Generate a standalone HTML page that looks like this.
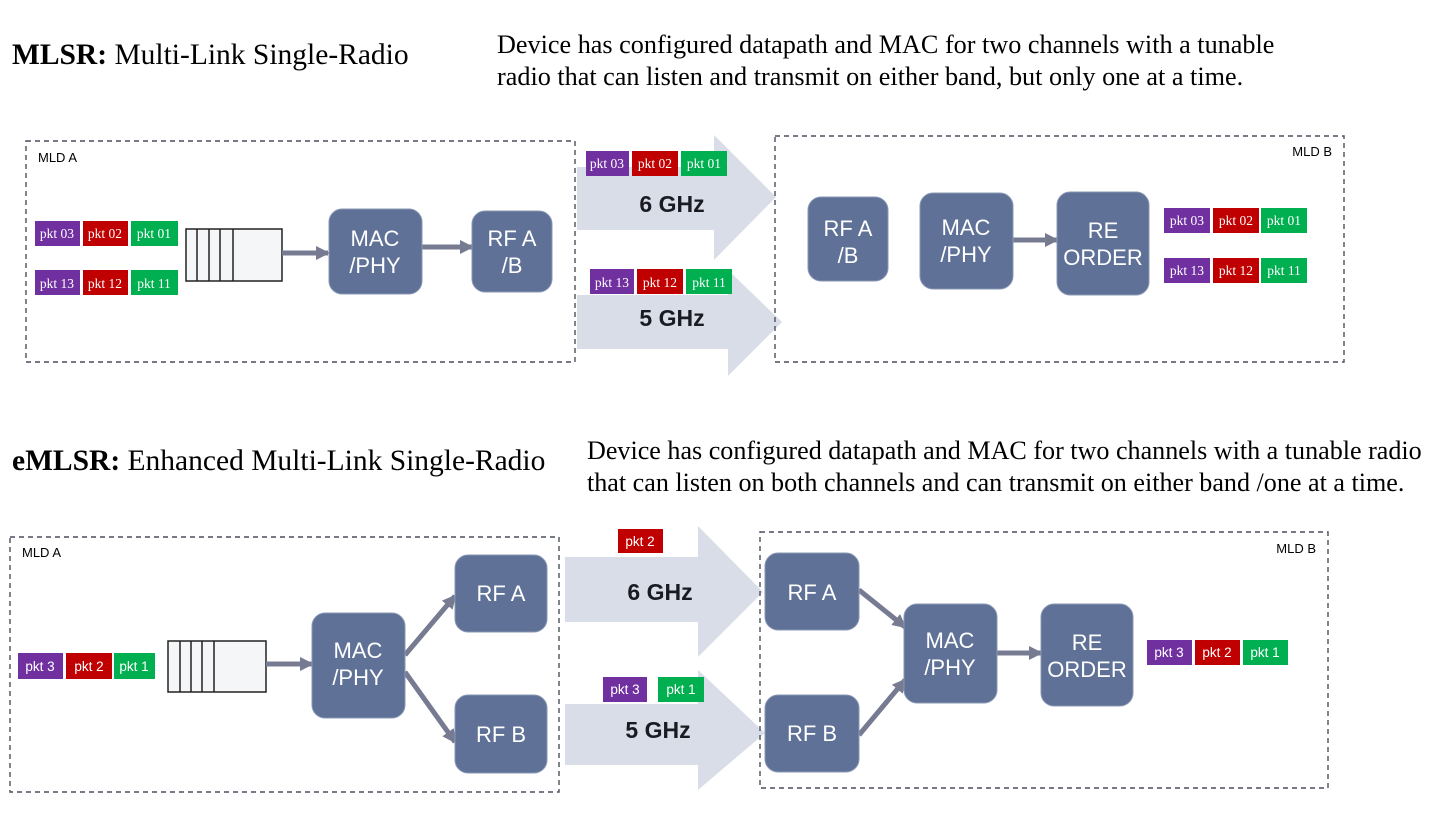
<!DOCTYPE html>
<html><head><meta charset="utf-8"><style>
html,body{margin:0;padding:0;background:#fff;}
svg{display:block;}
.ser{font-family:"Liberation Serif",serif;}
.san{font-family:"Liberation Sans",sans-serif;}
</style></head><body>
<svg width="1441" height="833" viewBox="0 0 1441 833" xmlns="http://www.w3.org/2000/svg">
<defs>
<marker id="ah" markerWidth="14" markerHeight="14" refX="12" refY="7" orient="auto" markerUnits="userSpaceOnUse">
<path d="M0,0 L14,7 L0,14 z" fill="#777b92"/></marker>
</defs>
<text x="12" y="64" class="ser" font-size="29.5"><tspan font-weight="bold">MLSR:</tspan> Multi-Link Single-Radio</text>
<text x="497" y="53" class="ser" font-size="26.2">Device has configured datapath and MAC for two channels with a tunable</text>
<text x="497" y="85" class="ser" font-size="26.2">radio that can listen and transmit on either band, but only one at a time.</text>
<text x="12" y="470" class="ser" font-size="29.5"><tspan font-weight="bold">eMLSR:</tspan> Enhanced Multi-Link Single-Radio</text>
<text x="587" y="459" class="ser" font-size="26.1">Device has configured datapath and MAC for two channels with a tunable radio</text>
<text x="587" y="491" class="ser" font-size="26.1">that can listen on both channels and can transmit on either band /one at a time.</text>

<polygon points="577,167 714,167 714,135 776,197 714,260 714,230 577,230" fill="#d9dde7"/>
<polygon points="577,295 728,295 728,270 782,322 728,376 728,349 577,349" fill="#d9dde7"/>
<polygon points="565,557 698,557 698,526 763,592 698,657 698,622 565,622" fill="#d9dde7"/>
<polygon points="565,704 698,704 698,670 765,733 698,790 698,765 565,765" fill="#d9dde7"/>

<g fill="none" stroke="#4a4f5c" stroke-width="1.4" stroke-dasharray="5,4">
<rect x="26" y="141" width="549" height="221"/>
<rect x="775" y="136" width="569" height="226"/>
<rect x="10" y="537" width="549" height="255"/>
<rect x="760" y="532" width="568" height="256"/>
</g>
<g class="san" font-size="13">
<text x="38" y="162">MLD A</text>
<text x="1332" y="156" text-anchor="end">MLD B</text>
<text x="22" y="557">MLD A</text>
<text x="1316" y="553" text-anchor="end">MLD B</text>
</g>

<g class="ser" font-size="13.5" fill="#fff" text-anchor="middle">
<rect x="35" y="221" width="45" height="25" fill="#7030a0"/><text x="57" y="238">pkt 03</text>
<rect x="83" y="221" width="45" height="25" fill="#c00000"/><text x="105" y="238">pkt 02</text>
<rect x="131" y="221" width="47" height="25" fill="#00b050"/><text x="154" y="238">pkt 01</text>
<rect x="35" y="270" width="45" height="25" fill="#7030a0"/><text x="57" y="288">pkt 13</text>
<rect x="83" y="270" width="45" height="25" fill="#c00000"/><text x="105" y="288">pkt 12</text>
<rect x="131" y="270" width="47" height="25" fill="#00b050"/><text x="154" y="288">pkt 11</text>

<rect x="586" y="151" width="43" height="25" fill="#7030a0"/><text x="607" y="168">pkt 03</text>
<rect x="632" y="151" width="46" height="25" fill="#c00000"/><text x="655" y="168">pkt 02</text>
<rect x="681" y="151" width="46" height="25" fill="#00b050"/><text x="704" y="168">pkt 01</text>
<rect x="590" y="269" width="44" height="25" fill="#7030a0"/><text x="612" y="287">pkt 13</text>
<rect x="637" y="269" width="46" height="25" fill="#c00000"/><text x="660" y="287">pkt 12</text>
<rect x="686" y="269" width="46" height="25" fill="#00b050"/><text x="709" y="287">pkt 11</text>

<rect x="1164" y="208" width="46" height="25" fill="#7030a0"/><text x="1187" y="225">pkt 03</text>
<rect x="1213" y="208" width="46" height="25" fill="#c00000"/><text x="1236" y="225">pkt 02</text>
<rect x="1261" y="208" width="46" height="25" fill="#00b050"/><text x="1284" y="225">pkt 01</text>
<rect x="1164" y="258" width="46" height="25" fill="#7030a0"/><text x="1187" y="275">pkt 13</text>
<rect x="1213" y="258" width="46" height="25" fill="#c00000"/><text x="1236" y="275">pkt 12</text>
<rect x="1261" y="258" width="46" height="25" fill="#00b050"/><text x="1284" y="275">pkt 11</text>
</g>
<g class="san" font-weight="bold" font-size="23" fill="#1a1a22" text-anchor="middle">
<text x="672" y="212">6 GHz</text><text x="672" y="326">5 GHz</text>
<text x="660" y="600">6 GHz</text><text x="658" y="738">5 GHz</text>
</g>
<g fill="#f5f6f8" stroke="#222" stroke-width="1.5">
<rect x="186" y="229" width="96" height="52"/>
<line x1="197" y1="229" x2="197" y2="281"/><line x1="209" y1="229" x2="209" y2="281"/><line x1="220" y1="229" x2="220" y2="281"/><line x1="233" y1="229" x2="233" y2="281"/>
<rect x="168" y="641" width="98" height="51"/>
<line x1="180" y1="641" x2="180" y2="692"/><line x1="191" y1="641" x2="191" y2="692"/><line x1="202" y1="641" x2="202" y2="692"/><line x1="214" y1="641" x2="214" y2="692"/>
</g>
<g stroke="#777b92" stroke-width="5" fill="none" marker-end="url(#ah)">
<line x1="282" y1="253" x2="328" y2="253"/>
<line x1="422" y1="247" x2="472" y2="247"/>
<line x1="1013" y1="240" x2="1057" y2="240"/>
<line x1="266" y1="664" x2="312" y2="664"/>
<line x1="405" y1="655" x2="455" y2="596"/>
<line x1="405" y1="672" x2="455" y2="742"/>
<line x1="859" y1="590" x2="905" y2="627"/>
<line x1="859" y1="735" x2="905" y2="680"/>
<line x1="997" y1="653" x2="1041" y2="653"/>
</g>
<g fill="#5f7196" stroke="#8a98b4" stroke-width="1">
<rect x="329" y="209" width="93" height="85" rx="13"/>
<rect x="472" y="211" width="80" height="81" rx="13"/>
<rect x="808" y="197" width="80" height="84" rx="13"/>
<rect x="920" y="193" width="93" height="96" rx="13"/>
<rect x="1057" y="192" width="92" height="103" rx="13"/>
<rect x="312" y="613" width="93" height="105" rx="13"/>
<rect x="455" y="555" width="92" height="77" rx="13"/>
<rect x="455" y="695" width="92" height="78" rx="13"/>
<rect x="765" y="553" width="94" height="77" rx="13"/>
<rect x="765" y="695" width="94" height="77" rx="13"/>
<rect x="904" y="604" width="93" height="99" rx="13"/>
<rect x="1041" y="604" width="92" height="102" rx="13"/>
</g>
<g class="san" font-size="22" fill="#fff" text-anchor="middle">
<text x="375" y="246">MAC</text><text x="375" y="273">/PHY</text>
<text x="512" y="246">RF A</text><text x="512" y="273">/B</text>
<text x="848" y="236">RF A</text><text x="848" y="263">/B</text>
<text x="966" y="235">MAC</text><text x="966" y="262">/PHY</text>
<text x="1103" y="238">RE</text><text x="1103" y="265">ORDER</text>
<text x="358" y="658">MAC</text><text x="358" y="685">/PHY</text>
<text x="501" y="601">RF A</text><text x="501" y="742">RF B</text>
<text x="812" y="600">RF A</text><text x="812" y="741">RF B</text>
<text x="950" y="648">MAC</text><text x="950" y="675">/PHY</text>
<text x="1087" y="650">RE</text><text x="1087" y="677">ORDER</text>
</g>
<g class="san" font-size="13.5" fill="#fff" text-anchor="middle">
<rect x="18" y="653" width="45" height="26" fill="#7030a0"/><text x="40" y="671">pkt 3</text>
<rect x="66" y="653" width="46" height="26" fill="#c00000"/><text x="89" y="671">pkt 2</text>
<rect x="114" y="653" width="41" height="26" fill="#00b050"/><text x="134" y="671">pkt 1</text>
<rect x="618" y="529" width="45" height="24" fill="#c00000"/><text x="640" y="546">pkt 2</text>
<rect x="603" y="677" width="44" height="25" fill="#7030a0"/><text x="625" y="694">pkt 3</text>
<rect x="658" y="677" width="46" height="25" fill="#00b050"/><text x="681" y="694">pkt 1</text>
<rect x="1147" y="640" width="45" height="25" fill="#7030a0"/><text x="1169" y="657">pkt 3</text>
<rect x="1195" y="640" width="45" height="25" fill="#c00000"/><text x="1217" y="657">pkt 2</text>
<rect x="1243" y="640" width="45" height="25" fill="#00b050"/><text x="1265" y="657">pkt 1</text>
</g>
</svg>
</body></html>
